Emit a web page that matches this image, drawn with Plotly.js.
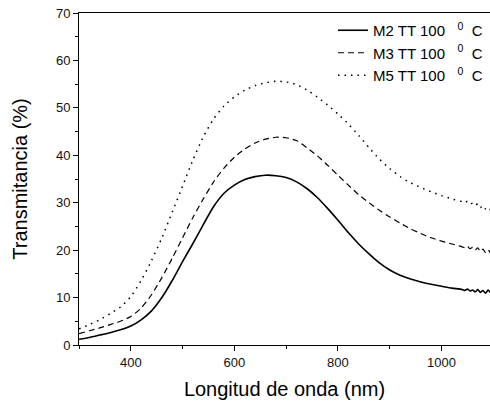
<!DOCTYPE html>
<html>
<head>
<meta charset="utf-8">
<script src="https://cdn.plot.ly/plotly-3.0.1.min.js"></script>
<style>html,body{margin:0;padding:0;background:#fff;}#chart{width:490px;height:406px;}</style>
</head>
<body>
<div id="chart"></div>
<script>
const wavelength = [300,320,340,360,380,400,420,440,460,480,500,520,540,560,580,600,620,640,660,680,700,720,740,760,780,800,820,840,860,880,900,920,940,960,980,1000,1020,
  1040,1045,1050,1055,1060,1065,1070,1075,1080,1085,1090,1095,1100];
const m2 = [1.2,1.6,2.1,2.6,3.2,4.0,5.3,7.2,10.0,13.6,17.6,21.4,25.4,29.2,32.0,33.7,34.9,35.5,35.8,35.7,35.3,34.4,33.0,31.1,28.8,26.3,23.7,21.3,19.2,17.3,15.8,14.7,13.9,13.3,12.8,12.4,12.0,
  11.7,11.5,11.8,11.4,11.6,11.2,11.7,11.1,11.5,10.9,11.6,11.0,11.3];
const m3 = [2.4,3.0,3.6,4.3,5.0,6.0,7.8,10.6,14.2,18.3,22.6,26.9,30.8,34.4,37.3,39.6,41.3,42.6,43.4,43.8,43.7,43.1,41.6,39.9,37.9,35.8,33.7,31.7,30.0,28.4,27.0,25.7,24.5,23.5,22.6,21.9,21.3,
  20.7,20.5,20.8,20.3,20.6,20.0,20.5,19.7,20.2,19.5,20.1,19.4,19.8];
const m5 = [3.4,4.3,5.3,6.6,8.0,10.2,13.6,17.8,22.6,28.0,33.5,39.0,43.9,47.7,50.4,52.3,53.7,54.7,55.3,55.6,55.5,54.9,53.8,52.3,50.6,48.7,46.6,44.2,41.6,39.2,37.2,35.5,34.2,33.2,32.3,31.5,30.8,
  30.2,30.0,30.3,29.7,29.9,29.4,29.8,29.0,29.4,28.7,29.1,28.4,28.6];
const seriesNames = [
  'M2 TT 100\u00a0\u00a0\u00a0<sup>0</sup>\u00a0\u00a0C',
  'M3 TT 100\u00a0\u00a0\u00a0<sup>0</sup>\u00a0\u00a0C',
  'M5 TT 100\u00a0\u00a0\u00a0<sup>0</sup>\u00a0\u00a0C'
];

const FONT = "'Liberation Sans', Arial, sans-serif";
const traces = [
  {x: wavelength, y: m2, name: seriesNames[0], mode: 'lines', line: {color: '#000', width: 1.6, shape: 'spline', smoothing: 0.6}},
  {x: wavelength, y: m3, name: seriesNames[1], mode: 'lines', line: {color: '#000', width: 1.2, dash: '6px,4px', shape: 'spline', smoothing: 0.6}},
  {x: wavelength, y: m5, name: seriesNames[2], mode: 'lines', line: {color: '#000', width: 1.5, dash: '1.5px,5px', shape: 'spline', smoothing: 0.6}}
];

const layout = {
  width: 490, height: 406,
  margin: {l: 79, r: 0, t: 13, b: 61, pad: 0},
  paper_bgcolor: '#fff', plot_bgcolor: '#fff',
  font: {family: FONT, color: '#000'},
  showlegend: true,
  legend: {x: 0.618, y: 0.997, xanchor: 'left', yanchor: 'top', bgcolor: 'rgba(0,0,0,0)', font: {size: 15, family: FONT, color: '#000'}, tracegroupgap: 0},
  xaxis: {
    range: [300, 1093.6], showgrid: false, zeroline: false,
    showline: true, linecolor: '#000', linewidth: 1, mirror: true,
    ticks: 'outside', ticklen: 5, tickwidth: 1, tickcolor: '#000',
    tick0: 0, dtick: 200,
    minor: {dtick: 100, ticks: 'outside', ticklen: 3, tickwidth: 1, tickcolor: '#000', showgrid: false},
    tickfont: {size: 13, family: FONT, color: '#111'},
    title: {text: 'Longitud de onda (nm)', font: {size: 20, family: FONT, color: '#000'}, standoff: 13}
  },
  yaxis: {
    range: [0, 70], showgrid: false, zeroline: false,
    showline: true, linecolor: '#000', linewidth: 1, mirror: false,
    ticks: 'outside', ticklen: 5, tickwidth: 1, tickcolor: '#000',
    tick0: 0, dtick: 10,
    minor: {dtick: 5, ticks: 'outside', ticklen: 3, tickwidth: 1, tickcolor: '#000', showgrid: false},
    tickfont: {size: 13, family: FONT, color: '#111'},
    title: {text: 'Transmitancia (%)', font: {size: 20, family: FONT, color: '#000'}, standoff: 22}
  }
};

Plotly.newPlot('chart', traces, layout, {displayModeBar: false, staticPlot: true});
</script>
</body>
</html>
